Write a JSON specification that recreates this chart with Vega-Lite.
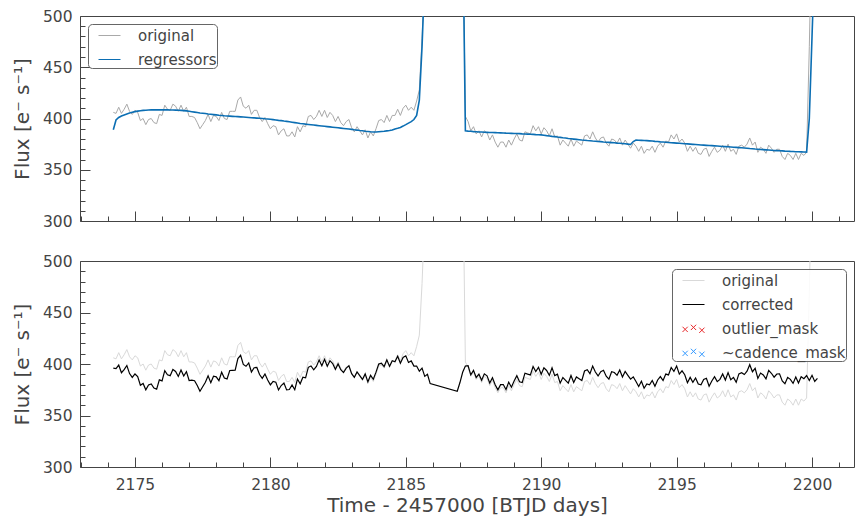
{
 "$schema": "https://vega.github.io/schema/vega-lite/v6.json",
 "padding": {"left": 11, "top": 8, "right": 9, "bottom": 4},
 "background": "white",
 "config": {
  "font": "DejaVu Sans",
  "view": {"stroke": "#444", "strokeWidth": 1},
  "axis": {"grid": false, "domain": false, "tickColor": "#444", "labelColor": "#444", "titleColor": "#444", "labelFontSize": 15.5, "titleFontSize": 20, "titleFontWeight": "normal", "tickWidth": 1, "labelFont": "DejaVu Sans", "titleFont": "DejaVu Sans"},
  "legend": {"labelFontSize": 15, "labelColor": "#444", "labelFont": "DejaVu Sans", "symbolSize": 484, "symbolStrokeWidth": 1, "strokeColor": "#666", "cornerRadius": 4, "fillColor": "rgba(255,255,255,0.85)", "padding": 0, "symbolOffset": 10, "labelOffset": 17, "rowPadding": 4, "offset": 8, "title": null}
 },
 "datasets": {"lc": [
{"t":2174.2,"o":406,"r":389.0,"c":396},
{"t":2174.3,"o":405,"r":398.5,"c":395.5},
{"t":2174.4,"o":411,"r":401.0,"c":399},
{"t":2174.5,"o":405,"r":402.5,"c":391.5},
{"t":2174.6,"o":409,"r":403.5,"c":394.5},
{"t":2174.7,"o":414,"r":404.5,"c":398.5},
{"t":2174.8,"o":407,"r":405.3,"c":390.7},
{"t":2174.9,"o":404,"r":406.0,"c":387},
{"t":2175.0,"o":408,"r":406.7,"c":390.3},
{"t":2175.1,"o":406,"r":407.2,"c":387.8},
{"t":2175.2,"o":398,"r":407.6,"c":379.4},
{"t":2175.3,"o":400,"r":407.9,"c":381.1},
{"t":2175.4,"o":394,"r":408.1,"c":374.9},
{"t":2175.5,"o":399,"r":408.3,"c":379.7},
{"t":2175.6,"o":400,"r":408.4,"c":380.6},
{"t":2175.7,"o":396,"r":408.4,"c":376.6},
{"t":2175.8,"o":395,"r":408.4,"c":375.6},
{"t":2175.9,"o":404,"r":408.4,"c":384.6},
{"t":2176.0,"o":403,"r":408.4,"c":383.6},
{"t":2176.1,"o":413,"r":408.4,"c":393.6},
{"t":2176.2,"o":409,"r":408.4,"c":389.6},
{"t":2176.3,"o":408,"r":408.3,"c":388.7},
{"t":2176.4,"o":414,"r":408.3,"c":394.7},
{"t":2176.5,"o":412,"r":408.2,"c":392.8},
{"t":2176.6,"o":407,"r":408.1,"c":387.9},
{"t":2176.7,"o":413,"r":407.9,"c":394.1},
{"t":2176.8,"o":407,"r":407.7,"c":388.3},
{"t":2176.9,"o":411,"r":407.4,"c":392.6},
{"t":2177.0,"o":402,"r":407.0,"c":384},
{"t":2177.1,"o":402,"r":406.6,"c":384.4},
{"t":2177.2,"o":401,"r":406.2,"c":383.8},
{"t":2177.3,"o":396,"r":405.8,"c":379.2},
{"t":2177.4,"o":390,"r":405.4,"c":373.6},
{"t":2177.5,"o":394,"r":405.1,"c":377.9},
{"t":2177.6,"o":398,"r":404.8,"c":382.2},
{"t":2177.7,"o":404,"r":404.4,"c":388.6},
{"t":2177.8,"o":397,"r":404.1,"c":381.9},
{"t":2177.9,"o":403,"r":403.8,"c":388.2},
{"t":2178.0,"o":402,"r":403.5,"c":387.5},
{"t":2178.1,"o":398,"r":403.2,"c":383.8},
{"t":2178.2,"o":406,"r":403.0,"c":392},
{"t":2178.3,"o":400,"r":402.7,"c":386.3},
{"t":2178.4,"o":399,"r":402.5,"c":385.5},
{"t":2178.5,"o":407,"r":402.3,"c":393.7},
{"t":2178.6,"o":407,"r":402.1,"c":393.9},
{"t":2178.7,"o":407,"r":401.9,"c":394.1},
{"t":2178.8,"o":418,"r":401.8,"c":405.2},
{"t":2178.9,"o":421,"r":401.6,"c":408.4},
{"t":2179.0,"o":412,"r":401.4,"c":399.6},
{"t":2179.1,"o":410,"r":401.2,"c":397.8},
{"t":2179.2,"o":413,"r":401.0,"c":401},
{"t":2179.3,"o":404,"r":400.8,"c":392.2},
{"t":2179.4,"o":408,"r":400.6,"c":396.4},
{"t":2179.5,"o":408,"r":400.4,"c":396.6},
{"t":2179.6,"o":401,"r":400.2,"c":389.8},
{"t":2179.7,"o":397,"r":400.0,"c":386},
{"t":2179.8,"o":401,"r":399.7,"c":390.3},
{"t":2179.9,"o":395,"r":399.5,"c":384.5},
{"t":2180.0,"o":390,"r":399.2,"c":379.8},
{"t":2180.1,"o":393,"r":398.9,"c":383.1},
{"t":2180.2,"o":392,"r":398.6,"c":382.4},
{"t":2180.3,"o":384,"r":398.2,"c":374.8},
{"t":2180.4,"o":388,"r":397.9,"c":379.1},
{"t":2180.5,"o":390,"r":397.5,"c":381.5},
{"t":2180.6,"o":383,"r":397.2,"c":374.8},
{"t":2180.7,"o":383,"r":396.8,"c":375.2},
{"t":2180.8,"o":387,"r":396.4,"c":379.6},
{"t":2180.9,"o":382,"r":396.0,"c":375},
{"t":2181.0,"o":392,"r":395.6,"c":385.4},
{"t":2181.1,"o":387,"r":395.2,"c":380.8},
{"t":2181.2,"o":393,"r":394.9,"c":387.1},
{"t":2181.3,"o":392,"r":394.5,"c":386.5},
{"t":2181.4,"o":402,"r":394.2,"c":396.8},
{"t":2181.5,"o":403,"r":393.9,"c":398.1},
{"t":2181.6,"o":399,"r":393.6,"c":394.4},
{"t":2181.7,"o":402,"r":393.3,"c":397.7},
{"t":2181.8,"o":408,"r":393.0,"c":404},
{"t":2181.9,"o":402,"r":392.7,"c":398.3},
{"t":2182.0,"o":408,"r":392.4,"c":404.6},
{"t":2182.1,"o":401,"r":392.1,"c":397.9},
{"t":2182.2,"o":406,"r":391.8,"c":403.2},
{"t":2182.3,"o":403,"r":391.5,"c":400.5},
{"t":2182.4,"o":397,"r":391.2,"c":394.8},
{"t":2182.5,"o":402,"r":390.9,"c":400.1},
{"t":2182.6,"o":396,"r":390.6,"c":394.4},
{"t":2182.7,"o":393,"r":390.3,"c":391.7},
{"t":2182.8,"o":397,"r":390.0,"c":396},
{"t":2182.9,"o":399,"r":389.7,"c":398.3},
{"t":2183.0,"o":391,"r":389.4,"c":390.6},
{"t":2183.1,"o":387,"r":389.0,"c":387},
{"t":2183.2,"o":392,"r":388.7,"c":392.3},
{"t":2183.3,"o":388,"r":388.3,"c":388.7},
{"t":2183.4,"o":384,"r":388.0,"c":385},
{"t":2183.5,"o":389,"r":387.6,"c":390.4},
{"t":2183.6,"o":381,"r":387.3,"c":382.7},
{"t":2183.7,"o":387,"r":387.0,"c":389},
{"t":2183.8,"o":383,"r":386.8,"c":385.2},
{"t":2183.9,"o":390,"r":386.9,"c":392.1},
{"t":2184.0,"o":398,"r":387.1,"c":399.9},
{"t":2184.1,"o":399,"r":387.3,"c":400.7},
{"t":2184.2,"o":396,"r":387.5,"c":397.5},
{"t":2184.3,"o":403,"r":387.9,"c":404.1},
{"t":2184.4,"o":397,"r":388.3,"c":397.7},
{"t":2184.5,"o":403,"r":388.8,"c":403.2},
{"t":2184.6,"o":403,"r":389.8,"c":402.2},
{"t":2184.7,"o":409,"r":390.5,"c":407.5},
{"t":2184.8,"o":403,"r":391.3,"c":400.7},
{"t":2184.9,"o":410,"r":392.6,"c":406.4},
{"t":2185.0,"o":413,"r":394.0,"c":408},
{"t":2185.1,"o":408,"r":395.5,"c":401.5},
{"t":2185.2,"o":411,"r":397.0,"c":403},
{"t":2185.3,"o":408,"r":399.0,"c":398},
{"t":2185.4,"o":417,"r":403.0,"c":398},
{"t":2185.5,"o":428,"r":418,"c":393},
{"t":2185.6,"o":478,"r":470,"c":396},
{"t":2185.7,"o":545,"r":540,"c":388},
{"t":2185.8,"o":600,"r":600,"c":390},
{"t":2185.9,"o":600,"r":600,"c":381},
{"t":2186.9,"o":600,"r":600,"c":373.5},
{"t":2187.0,"o":600,"r":600,"c":382},
{"t":2187.1,"o":600,"r":600,"c":392},
{"t":2187.2,"o":402,"r":388.0,"c":398},
{"t":2187.3,"o":397,"r":387.7,"c":398.3},
{"t":2187.4,"o":388,"r":387.5,"c":389.5},
{"t":2187.5,"o":392,"r":387.2,"c":393.8},
{"t":2187.6,"o":385,"r":387.1,"c":386.9},
{"t":2187.7,"o":388,"r":386.9,"c":390.1},
{"t":2187.8,"o":382,"r":386.8,"c":384.2},
{"t":2187.9,"o":388,"r":386.6,"c":390.4},
{"t":2188.0,"o":386,"r":386.5,"c":388.5},
{"t":2188.1,"o":379,"r":386.4,"c":381.6},
{"t":2188.2,"o":384,"r":386.3,"c":386.7},
{"t":2188.3,"o":377,"r":386.2,"c":379.8},
{"t":2188.4,"o":372,"r":386.1,"c":374.9},
{"t":2188.5,"o":377,"r":386.0,"c":380},
{"t":2188.6,"o":377,"r":385.9,"c":380.1},
{"t":2188.7,"o":372,"r":385.7,"c":375.3},
{"t":2188.8,"o":379,"r":385.6,"c":382.4},
{"t":2188.9,"o":374,"r":385.5,"c":377.5},
{"t":2189.0,"o":380,"r":385.4,"c":383.6},
{"t":2189.1,"o":385,"r":385.3,"c":388.7},
{"t":2189.2,"o":379,"r":385.2,"c":382.8},
{"t":2189.3,"o":378,"r":385.0,"c":382},
{"t":2189.4,"o":387,"r":384.9,"c":391.1},
{"t":2189.5,"o":386,"r":384.8,"c":390.2},
{"t":2189.6,"o":385,"r":384.6,"c":389.4},
{"t":2189.7,"o":393,"r":384.5,"c":397.5},
{"t":2189.8,"o":388,"r":384.3,"c":392.7},
{"t":2189.9,"o":392,"r":384.2,"c":396.8},
{"t":2190.0,"o":385,"r":384.0,"c":390},
{"t":2190.1,"o":391,"r":383.7,"c":396.3},
{"t":2190.2,"o":388,"r":383.3,"c":393.7},
{"t":2190.3,"o":383,"r":383.0,"c":389},
{"t":2190.4,"o":390,"r":382.6,"c":396.4},
{"t":2190.5,"o":382,"r":382.3,"c":388.7},
{"t":2190.6,"o":383,"r":381.9,"c":390.1},
{"t":2190.7,"o":374,"r":381.6,"c":381.4},
{"t":2190.8,"o":379,"r":381.2,"c":386.8},
{"t":2190.9,"o":376,"r":380.9,"c":384.1},
{"t":2191.0,"o":373,"r":380.5,"c":381.5},
{"t":2191.1,"o":380,"r":380.2,"c":388.8},
{"t":2191.2,"o":373,"r":379.9,"c":382.1},
{"t":2191.3,"o":378,"r":379.6,"c":387.4},
{"t":2191.4,"o":376,"r":379.3,"c":385.7},
{"t":2191.5,"o":374,"r":379.0,"c":384},
{"t":2191.6,"o":383,"r":378.8,"c":393.2},
{"t":2191.7,"o":384,"r":378.5,"c":394.5},
{"t":2191.8,"o":380,"r":378.3,"c":390.7},
{"t":2191.9,"o":387,"r":378.0,"c":398},
{"t":2192.0,"o":381,"r":377.8,"c":392.2},
{"t":2192.1,"o":377,"r":377.6,"c":388.4},
{"t":2192.2,"o":381,"r":377.4,"c":392.6},
{"t":2192.3,"o":382,"r":377.1,"c":393.9},
{"t":2192.4,"o":376,"r":376.9,"c":388.1},
{"t":2192.5,"o":373,"r":376.7,"c":385.3},
{"t":2192.6,"o":380,"r":376.5,"c":392.5},
{"t":2192.7,"o":379,"r":376.3,"c":391.7},
{"t":2192.8,"o":376,"r":376.0,"c":389},
{"t":2192.9,"o":381,"r":375.8,"c":394.2},
{"t":2193.0,"o":374,"r":375.6,"c":387.4},
{"t":2193.1,"o":379,"r":375.3,"c":392.7},
{"t":2193.2,"o":375,"r":375.0,"c":389},
{"t":2193.3,"o":371,"r":374.7,"c":385.3},
{"t":2193.4,"o":376,"r":377.5,"c":387.5},
{"t":2193.5,"o":373,"r":379.0,"c":383},
{"t":2193.6,"o":368,"r":378.8,"c":378.2},
{"t":2193.7,"o":373,"r":378.7,"c":383.3},
{"t":2193.8,"o":366,"r":378.5,"c":376.5},
{"t":2193.9,"o":370,"r":378.4,"c":380.6},
{"t":2194.0,"o":369,"r":378.2,"c":379.8},
{"t":2194.1,"o":373,"r":378.0,"c":384},
{"t":2194.2,"o":367,"r":377.7,"c":378.3},
{"t":2194.3,"o":373,"r":377.5,"c":384.5},
{"t":2194.4,"o":376,"r":377.2,"c":387.8},
{"t":2194.5,"o":372,"r":377.0,"c":384},
{"t":2194.6,"o":378,"r":376.8,"c":390.2},
{"t":2194.7,"o":377,"r":376.6,"c":389.4},
{"t":2194.8,"o":384,"r":376.4,"c":396.6},
{"t":2194.9,"o":380,"r":376.2,"c":392.8},
{"t":2195.0,"o":385,"r":376.0,"c":398},
{"t":2195.1,"o":377,"r":375.8,"c":390.2},
{"t":2195.2,"o":380,"r":375.6,"c":393.4},
{"t":2195.3,"o":376,"r":375.4,"c":389.6},
{"t":2195.4,"o":368,"r":375.2,"c":381.8},
{"t":2195.5,"o":373,"r":375.0,"c":387},
{"t":2195.6,"o":368,"r":374.8,"c":382.2},
{"t":2195.7,"o":372,"r":374.6,"c":386.4},
{"t":2195.8,"o":366,"r":374.4,"c":380.6},
{"t":2195.9,"o":365,"r":374.2,"c":379.8},
{"t":2196.0,"o":370,"r":374.0,"c":385},
{"t":2196.1,"o":371,"r":373.8,"c":386.2},
{"t":2196.2,"o":363,"r":373.6,"c":378.4},
{"t":2196.3,"o":368,"r":373.5,"c":383.5},
{"t":2196.4,"o":372,"r":373.3,"c":387.7},
{"t":2196.5,"o":367,"r":373.1,"c":382.9},
{"t":2196.6,"o":369,"r":372.9,"c":385.1},
{"t":2196.7,"o":374,"r":372.7,"c":390.3},
{"t":2196.8,"o":368,"r":372.6,"c":384.4},
{"t":2196.9,"o":375,"r":372.4,"c":391.6},
{"t":2197.0,"o":368,"r":372.2,"c":384.8},
{"t":2197.1,"o":370,"r":372.0,"c":387},
{"t":2197.2,"o":365,"r":371.8,"c":382.2},
{"t":2197.3,"o":373,"r":371.6,"c":390.4},
{"t":2197.4,"o":374,"r":371.4,"c":391.6},
{"t":2197.5,"o":372,"r":371.2,"c":389.8},
{"t":2197.6,"o":375,"r":371.0,"c":393},
{"t":2197.7,"o":381,"r":370.7,"c":399.3},
{"t":2197.8,"o":374,"r":370.5,"c":392.5},
{"t":2197.9,"o":377,"r":370.2,"c":395.8},
{"t":2198.0,"o":367,"r":370.0,"c":386},
{"t":2198.1,"o":372,"r":369.8,"c":391.2},
{"t":2198.2,"o":370,"r":369.6,"c":389.4},
{"t":2198.3,"o":366,"r":369.4,"c":385.6},
{"t":2198.4,"o":374,"r":369.2,"c":393.8},
{"t":2198.5,"o":371,"r":369.0,"c":391},
{"t":2198.6,"o":367,"r":368.8,"c":387.2},
{"t":2198.7,"o":370,"r":368.7,"c":390.3},
{"t":2198.8,"o":370,"r":368.5,"c":390.5},
{"t":2198.9,"o":363,"r":368.4,"c":383.6},
{"t":2199.0,"o":360,"r":368.2,"c":380.8},
{"t":2199.1,"o":366,"r":368.1,"c":386.9},
{"t":2199.2,"o":364,"r":367.9,"c":385.1},
{"t":2199.3,"o":360,"r":367.8,"c":381.2},
{"t":2199.4,"o":366,"r":367.6,"c":387.4},
{"t":2199.5,"o":360,"r":367.5,"c":381.5},
{"t":2199.6,"o":366,"r":367.4,"c":387.6},
{"t":2199.7,"o":364,"r":367.3,"c":385.7},
{"t":2199.8,"o":367,"r":367.2,"c":388.8},
{"t":2199.9,"o":470,"r":400,"c":384},
{"t":2200.0,"o":600,"r":480,"c":389},
{"t":2200.1,"o":650,"r":560,"c":383},
{"t":2200.2,"o":650,"r":640,"c":386}
 ]},
 "spacing": 23,
 "resolve": {"scale": {"color": "independent"}, "legend": {"color": "independent"}},
 "vconcat": [
  {
   "width": 774, "height": 205,
   "data": {"name": "lc"},
   "layer": [
    {
     "transform": [{"filter": "isValid(datum.o)"}],
     "mark": {"type": "line", "clip": true, "strokeWidth": 1},
     "encoding": {
      "x": {"field": "t", "type": "quantitative", "scale": {"domain": [2172.97, 2201.55], "nice": false, "zero": false},
            "axis": {"orient": "bottom", "values": [2175, 2180, 2185, 2190, 2195, 2200], "labels": false, "title": null, "tickSize": -10, "minExtent": 0, "maxExtent": 0}},
      "y": {"field": "o", "type": "quantitative", "scale": {"domain": [300, 500], "nice": false, "zero": false},
            "axis": {"orient": "left", "values": [300, 350, 400, 450, 500], "tickSize": -10, "labelPadding": 18, "title": "Flux [e⁻ s⁻¹]", "titlePadding": 10}},
      "color": {"datum": "original", "type": "nominal", "scale": {"domain": ["original", "regressors"], "range": ["#a9a9a9", "#0b6eb3"]},
                "legend": {"orient": "top-left", "labelExpr": "datum.label + '\u00a0\u00a0\u00a0'"}}
     }
    },
    {
     "transform": [{"filter": "isValid(datum.r)"}],
     "mark": {"type": "line", "clip": true, "strokeWidth": 1.6},
     "encoding": {
      "x": {"field": "t", "type": "quantitative",
            "axis": {"orient": "bottom", "values": [2173,2174,2176,2177,2178,2179,2181,2182,2183,2184,2186,2187,2188,2189,2191,2192,2193,2194,2196,2197,2198,2199,2201], "labels": false, "title": null, "tickSize": -5, "minExtent": 0, "maxExtent": 0}},
      "y": {"field": "r", "type": "quantitative",
            "axis": {"orient": "left", "values": [310,320,330,340,360,370,380,390,410,420,430,440,460,470,480,490], "labels": false, "title": null, "tickSize": -5, "minExtent": 0, "maxExtent": 0}},
      "color": {"datum": "regressors", "type": "nominal"}
     }
    }
   ],
   "resolve": {"axis": {"x": "independent", "y": "independent"}}
  },
  {
   "width": 774, "height": 206,
   "data": {"name": "lc"},
   "layer": [
    {
     "transform": [{"filter": "isValid(datum.o)"}],
     "mark": {"type": "line", "clip": true, "strokeWidth": 1},
     "encoding": {
      "x": {"field": "t", "type": "quantitative", "scale": {"domain": [2172.97, 2201.55], "nice": false, "zero": false},
            "axis": {"orient": "bottom", "values": [2175, 2180, 2185, 2190, 2195, 2200], "format": "d", "tickSize": -10, "labelPadding": 20, "title": "Time - 2457000 [BTJD days]", "titlePadding": 3}},
      "y": {"field": "o", "type": "quantitative", "scale": {"domain": [300, 500], "nice": false, "zero": false},
            "axis": {"orient": "left", "values": [300, 350, 400, 450, 500], "tickSize": -10, "labelPadding": 18, "title": "Flux [e⁻ s⁻¹]", "titlePadding": 10}},
      "color": {"datum": "original", "type": "nominal",
                "scale": {"domain": ["original", "corrected", "outlier_mask", "~cadence_mask"], "range": ["#d9d9d9", "#000000", "#e8282b", "#3399ff"]},
                "legend": {"orient": "top-right", "labelExpr": "datum.label + '\u00a0\u00a0\u00a0'",
                           "encode": {"symbols": {"update": {"shape": {"signal": "indexof(['outlier_mask','~cadence_mask'], datum.value) >= 0 ? 'M-1,-0.16L-0.52,0.32M-1,0.32L-0.52,-0.16M-0.24,-0.34L0.24,0.14M-0.24,0.14L0.24,-0.34M0.52,-0.08L1,0.4M0.52,0.4L1,-0.08' : 'stroke'"}}}}}}
     }
    },
    {
     "transform": [{"filter": "isValid(datum.c)"}],
     "mark": {"type": "line", "clip": true, "strokeWidth": 1.2},
     "encoding": {
      "x": {"field": "t", "type": "quantitative",
            "axis": {"orient": "bottom", "values": [2173,2174,2176,2177,2178,2179,2181,2182,2183,2184,2186,2187,2188,2189,2191,2192,2193,2194,2196,2197,2198,2199,2201], "labels": false, "title": null, "tickSize": -5, "minExtent": 0, "maxExtent": 0}},
      "y": {"field": "c", "type": "quantitative",
            "axis": {"orient": "left", "values": [310,320,330,340,360,370,380,390,410,420,430,440,460,470,480,490], "labels": false, "title": null, "tickSize": -5, "minExtent": 0, "maxExtent": 0}},
      "color": {"datum": "corrected", "type": "nominal"}
     }
    }
   ],
   "resolve": {"axis": {"x": "independent", "y": "independent"}}
  }
 ]
}
